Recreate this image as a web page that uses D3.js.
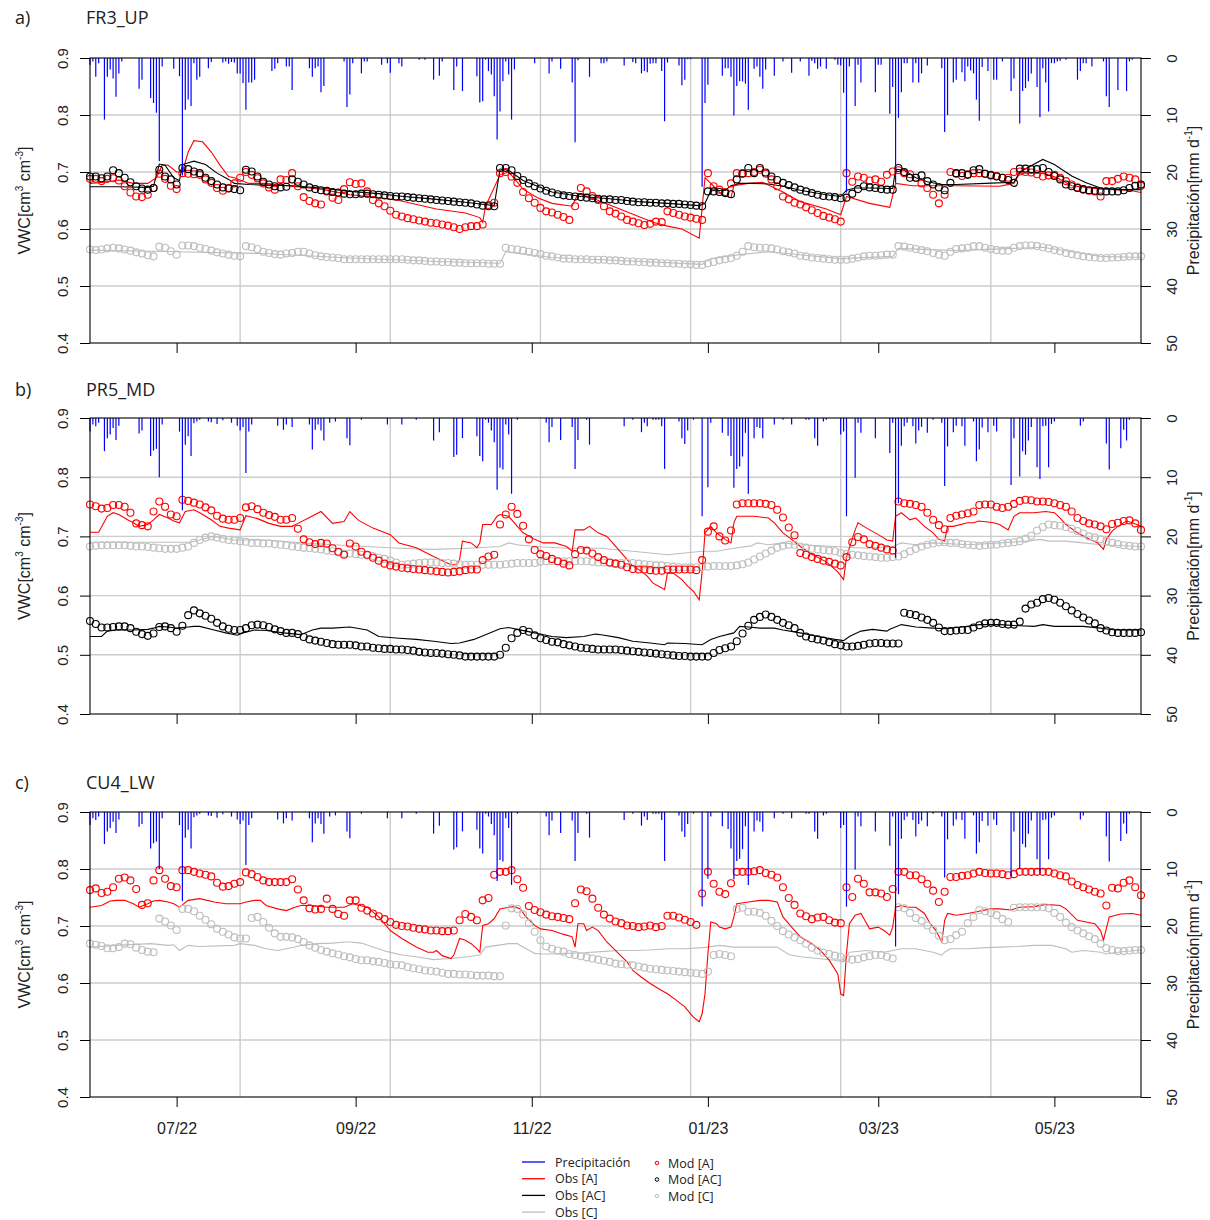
<!DOCTYPE html>
<html>
<head>
<meta charset="utf-8">
<script src="https://cdn.jsdelivr.net/npm/d3@7"></script>
<style>
  body { margin: 0; background: #fff; }
  svg { display: block; }
</style>
</head>
<body>
<svg id="chart" width="1210" height="1220"></svg>
<script>
/* global d3 */
const startDate = new Date(2022, 5, 1)
const endDate = new Date(2023, 4, 31)
const modStep = 2 // modelled series: one value every 2 days from startDate
const vwcTicks = [0.4, 0.5, 0.6, 0.7, 0.8, 0.9]
const precipTicks = [0, 10, 20, 30, 40, 50]
const monthTicks = ['2022-07-01', '2022-09-01', '2022-11-01', '2023-01-01', '2023-03-01', '2023-05-01']
const panelLabels = ['a)', 'b)', 'c)']
const siteNames = ['FR3_UP', 'PR5_MD', 'CU4_LW']
const legendLines = ['Precipitación', 'Obs [A]', 'Obs [AC]', 'Obs [C]']
const legendPoints = ['Mod [A]', 'Mod [AC]', 'Mod [C]']

// precipitation [day, mm]
const precipFR3 = [[0,1.2],[1,0.6],[2,3.3],[3,0.9],[5,10.8],[6,3.3],[7,2],[8,3.6],[9,6.8],[10,2.7],[11,0.6],[17,5.4],[18,3.8],[21,7],[22,7.9],[23,9.6],[24,18.1],[25,1.5],[29,1.9],[31,3.2],[32,20.6],[33,9.1],[34,7.3],[35,8.4],[36,0.9],[37,3.8],[38,3.3],[41,1.8],[42,0.7],[46,0.8],[47,0.6],[48,1],[49,0.7],[50,0.8],[51,2.7],[52,2.7],[53,4.4],[54,9.1],[55,4.3],[56,4.3],[57,3.8],[63,2.3],[64,1.9],[65,0.9],[68,1.5],[69,1.5],[70,5.6],[76,1.8],[77,3.3],[78,1.8],[79,1.5],[80,6],[81,4.9],[88,0.6],[89,8.6],[90,6.4],[91,0.9],[94,2.7],[95,0.6],[96,0.6],[101,1.2],[103,0.9],[104,2.6],[107,0.9],
  [108,1.5],[114,0.3],[116,0.3],[119,3.8],[121,3.1],[122,0.6],[126,5.6],[127,1.5],[129,5.8],[134,3.2],[135,7.8],[136,7.6],[137,0.3],[138,2.3],[139,2.9],[140,6.7],[141,14.3],[142,9.4],[143,4.1],[144,0.6],[145,2.9],[146,10.8],[147,2],[154,0.9],[159,2.7],[160,0.6],[163,1.9],[167,4.3],[168,14.8],[169,0.4],[173,3.3],[177,0.9],[178,0.9],[179,0.6],[185,1.3],[188,0.7],[189,0.9],[191,2.7],[192,2.3],[193,2.5],[194,1],[195,0.9],[196,0.9],[198,2.3],[199,11.1],[200,0.8],[204,1.3],[205,4.8],[206,3.8],[207,0.2],[208,0.2],[212,22.6],[213,7.9],[214,4.7],[219,3.1],[220,1.8],[221,1.8],[222,3.3],[223,10.1],[224,4.9],[225,4.1],[226,4.1],[227,4.5],[228,9.1],[230,1.9],[231,1.5],[232,3.3],[233,5.4],[234,2],[237,3.1],[240,0.6],[243,2.6],[246,0.6],
  [249,3.1],[250,0.5],[251,0.9],[252,1.9],[253,1.5],[255,1.9],[258,0.3],[259,1.2],[260,1.3],[261,6.1],[262,23.6],[263,1.5],[265,8.4],[266,1.2],[267,4.3],[272,6],[273,1.2],[274,1.2],[277,9.8],[278,5.1],[279,21.9],[280,10.5],[281,6],[282,0.9],[283,0.9],[285,4.3],[286,0.9],[287,4.3],[288,2.7],[290,1.3],[295,1.8],[296,13],[297,10],[299,4.3],[300,3.8],[302,2.5],[303,4.1],[304,1.5],[305,2.2],[306,2.7],[307,7.3],[308,11],[309,1.6],[311,2.3],[313,3.8],[314,3.8],[316,0.6],[319,5.8],[320,3.6],[322,11.5],[323,5.8],[324,5.3],[325,4.1],[326,2.7],[328,5.1],[329,10.4],[330,1.8],[331,4.3],[332,9.4],[333,0.9],[334,0.9],[335,0.6],[336,0.5],[338,0.3],[342,3.8],[343,2.3],[344,0.9],[345,0.9],[347,1.5],[351,0.6],[352,6.7],[353,8.6],[356,5.6],[359,5.8],[360,0.6],[361,0.3]]

const precipPR5 = [[0,2.3],[1,1.1],[2,1.4],[3,0.8],[5,5.6],[6,3.4],[7,2.8],[8,1.7],[9,3.7],[10,1.3],[17,2.6],[18,2.1],[21,6.4],[22,5.5],[23,5.2],[24,10],[25,1.1],[31,2.3],[32,15.6],[33,4.5],[34,3.1],[35,6.4],[36,0.9],[37,0.6],[38,0.3],[41,0.6],[42,0.7],[44,1],[46,0.4],[49,0.8],[51,1.3],[52,2.1],[53,1.5],[54,9.3],[55,2.3],[56,1.1],[65,1.3],[67,2],[68,1.1],[70,1.5],[76,1.1],[77,5.3],[78,2],[79,1.1],[80,2.1],[81,3.8],[83,0.8],[85,0.6],[89,3.4],[90,4.6],[94,0.3],[103,1.1],
  [108,1.1],[113,0.3],[119,3.8],[121,2.4],[126,6.6],[127,6.2],[129,3.4],[134,3.1],[135,6.4],[136,7.3],[137,0.3],[138,0.8],[139,2.1],[140,4.1],[141,12.1],[142,8.4],[143,8.7],[144,1.1],[145,2.8],[146,12.8],[148,0.3],[158,0.8],[159,4.1],[160,1.5],[163,3.7],[167,1.5],[168,8.6],[169,3.7],[172,0.3],[173,4.5],[185,1.4],[188,0.3],[191,2.4],[192,0.8],[193,1.4],[195,0.3],[196,0.3],[197,0.3],[198,1.4],[199,8.6],[204,0.6],[205,3.4],[206,4.4],[207,2.1],[209,0.3],[212,16.6],[214,11.7],[215,0.8],[219,2.5],[221,3],[222,6.4],[223,11.8],[224,8.6],[225,8.2],[226,6.5],[227,2.5],[228,12.8],[230,3.4],[231,1.5],[232,1.7],[233,3.4],[237,1.1],[240,0.3],[243,1.1],
  [248,0.3],[249,0.3],[251,3.4],[252,4.7],[254,0.6],[255,0.3],[260,2.8],[261,2.3],[262,16.6],[265,10.1],[266,0.8],[267,2.5],[272,3.4],[277,5.9],[278,0.8],[279,23.6],[280,14.4],[281,4.7],[282,1.4],[283,0.8],[285,1.4],[286,4.3],[287,2.1],[288,1.5],[290,2.5],[292,0.3],[295,0.8],[296,11.5],[297,4.8],[299,2.4],[300,1.3],[302,1.4],[303,4.7],[306,0.6],[307,7.3],[308,5.3],[309,1.6],[311,2.4],[313,1.3],[314,2.3],[319,11.3],[320,3.4],[322,9.9],[323,5.6],[324,6.2],[325,3.8],[326,1.5],[328,8.3],[329,10.3],[330,1.4],[331,1.3],[332,8.3],[333,1],[334,0.6],[343,1.3],[344,0.6],[352,4.3],[353,8.7],[357,5.1],[358,2],[359,3.8],[360,0.3]]
const precipCU4 = precipPR5

// observed VWC [day, value]
const obsA_FR3 = [[0,.680],[5,.682],[10,.686],[15,.680],[20,.680],[23,.690],[25,.712],[27,.712],[30,.700],[32,.700],[34,.735],[36,.755],[39,.753],[42,.735],[45,.712],[48,.692],[50,.690],[55,.680],[60,.680],[70,.675],[80,.670],[90,.660],[100,.655],[107,.650],[120,.635],[130,.628],[135,.620],[136,.612],[137,.640],[142,.695],[145,.700],[150,.670],[155,.655],[160,.645],[167,.640],[169,.662],[175,.652],[185,.632],[195,.612],[200,.605],[205,.600],[211,.584],[213,.690],[216,.675],[219,.660],[222,.655],[223,.676],[228,.680],[233,.682],[240,.665],[246,.648],[255,.635],[260,.625],[262,.657],[270,.645],[277,.638],[279,.680],[285,.676],[300,.676],[315,.675],[320,.680],[322,.698],[330,.698],[335,.690],[340,.676],[350,.670],[360,.668],[364,.664]]
const obsAC_FR3 = [[0,.674],[10,.674],[20,.673],[22,.675],[24,.714],[26,.712],[29,.690],[31,.685],[32,.713],[36,.719],[40,.713],[44,.698],[48,.687],[50,.680],[55,.678],[60,.677],[70,.676],[80,.672],[90,.666],[100,.662],[107,.658],[120,.652],[130,.647],[140,.641],[142,.705],[145,.703],[150,.685],[160,.665],[170,.657],[180,.653],[190,.648],[200,.645],[211,.641],[213,.645],[215,.667],[220,.668],[222,.676],[225,.680],[230,.680],[235,.679],[240,.675],[246,.668],[255,.660],[260,.657],[262,.668],[265,.672],[270,.672],[278,.671],[279,.705],[282,.703],[286,.690],[290,.683],[295,.678],[300,.678],[310,.680],[320,.682],[322,.700],[330,.722],[334,.713],[340,.693],[345,.681],[350,.672],[356,.669],[364,.669]]
const obsC_FR3 = [[0,.563],[30,.560],[60,.557],[90,.549],[120,.543],[142,.540],[144,.560],[160,.550],[200,.541],[212,.538],[215,.548],[225,.555],[235,.560],[260,.548],[278,.552],[280,.566],[300,.562],[320,.566],[330,.568],[350,.552],[364,.550]]

const obsA_PR5 = [[0,.707],[3,.707],[6,.734],[8,.740],[10,.737],[13,.728],[15,.723],[17,.717],[20,.720],[22,.728],[24,.737],[27,.731],[29,.726],[31,.723],[33,.742],[36,.745],[38,.740],[42,.728],[45,.717],[48,.714],[52,.711],[54,.735],[58,.730],[62,.722],[66,.717],[70,.717],[72,.722],[76,.732],[80,.742],[84,.722],[88,.725],[90,.742],[93,.727],[98,.714],[104,.703],[107,.689],[113,.681],[119,.666],[125,.652],[127,.652],[128,.661],[129,.692],[132,.689],[134,.681],[135,.689],[136,.720],[139,.720],[141,.734],[142,.737],[145,.734],[148,.717],[150,.706],[154,.695],[157,.689],[161,.689],[165,.683],[167,.675],[168,.711],[171,.711],[173,.717],[176,.706],[179,.700],[181,.689],[184,.672],[186,.661],[188,.650],[191,.641],[193,.633],[195,.621],[198,.613],[199,.610],[200,.638],[202,.638],[205,.627],[207,.616],[209,.607],[211,.593],[212,.640],[213,.706],[215,.717],[217,.706],[220,.695],[222,.689],[223,.723],[224,.734],[228,.734],[230,.734],[235,.731],[237,.723],[240,.706],[243,.695],[246,.683],[250,.670],[255,.657],[259,.640],[261,.627],[262,.665],[265,.711],[266,.723],[269,.714],[273,.703],[276,.694],[278,.692],[279,.734],[281,.740],[284,.728],[286,.731],[289,.717],[292,.706],[294,.695],[296,.692],[297,.717],[299,.717],[304,.723],[306,.723],[308,.726],[313,.723],[315,.720],[318,.711],[320,.734],[322,.740],[327,.740],[331,.742],[334,.740],[336,.731],[338,.720],[342,.706],[345,.698],[349,.689],[351,.678],[352,.695],[354,.709],[356,.717],[359,.726],[361,.723],[364,.717]]
const obsAC_PR5 = [[0,.531],[4,.531],[6,.540],[9,.542],[15,.542],[20,.543],[22,.545],[24,.548],[27,.547],[30,.545],[34,.547],[36,.548],[38,.548],[43,.542],[47,.537],[51,.533],[53,.537],[57,.542],[61,.541],[67,.537],[73,.534],[77,.542],[80,.545],[84,.545],[90,.547],[96,.542],[100,.531],[107,.528],[113,.526],[119,.523],[125,.519],[128,.520],[133,.526],[137,.534],[142,.544],[145,.546],[148,.543],[154,.537],[160,.531],[165,.529],[171,.531],[175,.535],[177,.534],[183,.529],[188,.523],[194,.520],[199,.517],[200,.520],[206,.519],[212,.517],[215,.526],[218,.531],[223,.537],[225,.548],[228,.547],[232,.545],[237,.545],[240,.542],[246,.537],[252,.531],[258,.526],[261,.524],[263,.531],[267,.540],[271,.543],[276,.540],[277,.543],[281,.551],[286,.547],[292,.545],[296,.544],[302,.547],[308,.551],[315,.551],[322,.549],[327,.548],[330,.551],[334,.548],[338,.548],[344,.548],[350,.545],[355,.542],[364,.542]]
const obsC_PR5 = [[0,.690],[20,.690],[35,.690],[40,.697],[43,.700],[50,.694],[61,.694],[73,.689],[84,.686],[96,.683],[107,.680],[119,.678],[131,.680],[142,.683],[145,.689],[148,.686],[154,.683],[165,.680],[177,.680],[188,.675],[200,.669],[206,.672],[212,.675],[217,.675],[223,.680],[229,.684],[231,.689],[235,.686],[240,.689],[246,.686],[258,.683],[269,.680],[278,.683],[281,.689],[286,.686],[292,.689],[304,.686],[315,.689],[325,.692],[329,.695],[332,.692],[338,.692],[344,.689],[350,.686],[364,.683]]

const obsA_CU4 = [[0,.733],[4,.736],[7,.744],[9,.745],[12,.745],[15,.739],[17,.733],[20,.739],[22,.744],[24,.745],[27,.742],[29,.739],[31,.733],[34,.745],[38,.748],[43,.742],[47,.739],[52,.739],[54,.742],[57,.745],[59,.745],[61,.736],[65,.730],[68,.727],[71,.733],[73,.736],[77,.736],[82,.733],[88,.733],[91,.739],[96,.733],[100,.716],[104,.692],[108,.678],[113,.663],[117,.654],[119,.654],[120,.657],[122,.648],[125,.643],[126,.649],[128,.678],[130,.675],[132,.669],[134,.660],[135,.654],[136,.701],[138,.704],[140,.713],[142,.730],[145,.733],[147,.734],[149,.730],[151,.716],[154,.701],[156,.695],[160,.692],[163,.687],[165,.684],[167,.681],[168,.663],[169,.704],[171,.704],[172,.692],[174,.698],[176,.692],[179,.672],[183,.652],[186,.637],[188,.622],[191,.610],[194,.599],[198,.587],[200,.581],[203,.570],[206,.558],[208,.546],[209,.540],[211,.532],[212,.546],[213,.581],[214,.651],[215,.707],[217,.704],[218,.698],[220,.695],[222,.698],[223,.716],[224,.739],[228,.742],[232,.745],[235,.745],[238,.742],[240,.716],[243,.698],[246,.681],[250,.669],[253,.657],[256,.640],[259,.616],[260,.581],[261,.578],[262,.652],[263,.704],[265,.719],[267,.722],[268,.713],[270,.695],[273,.698],[275,.692],[277,.684],[278,.698],[279,.733],[281,.736],[283,.733],[286,.733],[289,.722],[291,.704],[293,.692],[295,.672],[296,.710],[297,.722],[300,.719],[304,.722],[307,.725],[312,.730],[315,.730],[319,.728],[322,.733],[327,.734],[331,.738],[336,.736],[338,.730],[342,.710],[345,.707],[348,.704],[350,.692],[351,.675],[353,.716],[357,.721],[361,.722],[364,.719]]
const obsC_CU4 = [[0,.663],[9,.666],[21,.669],[27,.666],[29,.667],[31,.657],[34,.666],[38,.664],[50,.666],[52,.669],[57,.666],[61,.660],[65,.657],[68,.660],[71,.663],[73,.666],[79,.669],[84,.670],[88,.672],[90,.672],[94,.670],[98,.663],[103,.655],[108,.649],[113,.646],[119,.641],[125,.643],[131,.646],[135,.649],[137,.663],[141,.666],[145,.669],[148,.669],[150,.663],[154,.652],[156,.651],[160,.651],[165,.652],[171,.653],[177,.655],[183,.657],[188,.657],[194,.658],[200,.660],[206,.660],[212,.662],[214,.663],[218,.666],[223,.663],[231,.663],[238,.663],[242,.650],[246,.646],[252,.643],[258,.640],[261,.637],[263,.654],[269,.657],[275,.654],[278,.657],[281,.660],[286,.660],[292,.654],[295,.649],[296,.654],[298,.660],[304,.660],[310,.662],[315,.663],[321,.664],[327,.666],[333,.666],[338,.660],[340,.654],[344,.657],[350,.654],[352,.651],[356,.654],[362,.657],[364,.658]]

// modelled VWC, every modStep days
const modA_FR3 = [.688,.688,.684,.688,.689,.685,.675,.664,.657,.656,
  .660,.672,.697,.688,.676,.670,.698,.697,.696,.695,
  .687,.681,.672,.667,.672,.680,.690,.700,.695,.689,
  .680,.673,.669,.687,.686,.698,.675,.656,.649,.645,
  .643,.666,.655,.651,.670,.682,.679,.680,.666,.651,
  .645,.640,.632,.625,.622,.619,.617,.615,.613,.611,
  .610,.608,.606,.603,.600,.603,.605,.605,.608,.642,
  .646,.698,.700,.692,.681,.665,.654,.646,.637,.631,
  .629,.625,.621,.616,.640,.672,.666,.658,.651,.640,
  .631,.627,.622,.616,.613,.610,.607,.609,.613,.612,
  .631,.628,.625,.622,.620,.618,.616,.698,.675,.669,
  .665,.680,.698,.698,.698,.700,.704,.697,.687,.675,
  .657,.652,.646,.643,.638,.633,.628,.623,.620,.617,
  .613,.698,.683,.692,.690,.685,.687,.683,.695,.701,
  .703,.698,.696,.690,.680,.672,.660,.645,.660,.700,
  .697,.693,.696,.698,.698,.697,.695,.693,.690,.690,
  .700,.701,.700,.699,.696,.692,.694,.695,.690,.684,
  .678,.673,.669,.667,.666,.657,.684,.684,.688,.692,
  .690,.687,.676]
const modAC_FR3 = [.692,.692,.689,.692,.703,.698,.690,.682,.675,.671,
  .669,.672,.704,.692,.687,.678,.707,.705,.701,.698,
  .690,.684,.678,.673,.671,.670,.668,.704,.701,.692,
  .683,.678,.675,.673,.674,.687,.683,.678,.673,.670,
  .668,.667,.665,.664,.662,.661,.661,.662,.662,.661,
  .660,.659,.658,.657,.657,.656,.655,.654,.653,.652,
  .651,.650,.649,.648,.647,.646,.645,.643,.641,.640,
  .640,.707,.707,.703,.693,.686,.680,.675,.671,.667,
  .664,.661,.659,.658,.657,.656,.655,.654,.653,.652,
  .652,.651,.651,.649,.648,.647,.647,.646,.646,.645,
  .645,.644,.644,.643,.642,.641,.640,.666,.666,.665,
  .663,.661,.687,.697,.707,.698,.707,.699,.692,.686,
  .681,.677,.673,.669,.666,.663,.660,.658,.657,.656,
  .654,.655,.662,.670,.675,.673,.672,.670,.669,.669,
  .707,.700,.690,.690,.694,.684,.678,.673,.668,.681,
  .698,.698,.695,.703,.705,.697,.694,.692,.690,.686,
  .681,.706,.706,.705,.705,.707,.700,.693,.687,.678,
  .675,.672,.670,.668,.667,.666,.666,.666,.666,.668,
  .672,.676,.678]
const modC_FR3 = [.564,.563,.564,.566,.567,.566,.564,.562,.559,.557,
  .554,.552,.569,.567,.561,.555,.571,.571,.570,.567,
  .565,.562,.559,.557,.555,.553,.552,.570,.568,.565,
  .560,.558,.556,.555,.557,.558,.560,.560,.557,.554,
  .552,.551,.550,.549,.547,.547,.547,.547,.547,.547,
  .547,.547,.547,.547,.547,.546,.545,.545,.544,.543,
  .543,.542,.542,.541,.541,.540,.540,.540,.540,.539,
  .539,.539,.567,.565,.564,.562,.560,.558,.556,.553,
  .552,.550,.548,.548,.547,.547,.547,.546,.546,.546,
  .545,.545,.544,.543,.543,.542,.542,.541,.541,.540,
  .540,.539,.539,.538,.538,.537,.537,.540,.542,.545,
  .547,.549,.553,.560,.570,.568,.567,.567,.566,.564,
  .561,.559,.557,.553,.552,.550,.549,.548,.547,.546,
  .546,.546,.548,.550,.552,.553,.553,.554,.555,.555,
  .570,.569,.567,.565,.563,.561,.558,.555,.553,.560,
  .565,.566,.567,.570,.570,.567,.565,.563,.562,.562,
  .567,.570,.571,.571,.570,.568,.566,.563,.561,.558,
  .556,.554,.552,.551,.550,.549,.549,.550,.550,.551,
  .552,.552,.552]

const modA_PR5 = [.754,.751,.747,.748,.753,.753,.750,.740,.722,.719,
  .717,.742,.759,.750,.737,.734,.762,.760,.757,.754,
  .749,.744,.735,.730,.728,.728,.731,.749,.751,.746,
  .740,.736,.733,.728,.728,.731,.713,.695,.690,.687,
  .689,.688,.680,.674,.669,.688,.683,.674,.669,.664,
  .659,.654,.651,.649,.647,.646,.645,.644,.643,.642,
  .641,.640,.639,.640,.641,.643,.644,.644,.660,.666,
  .669,.720,.737,.750,.738,.718,.695,.677,.670,.667,
  .662,.658,.654,.651,.670,.677,.676,.671,.665,.660,
  .656,.654,.652,.648,.645,.644,.644,.643,.642,.642,
  .644,.644,.644,.644,.644,.643,.660,.708,.717,.700,
  .693,.710,.754,.756,.756,.756,.756,.755,.753,.745,
  .732,.715,.702,.672,.669,.665,.662,.659,.657,.654,
  .651,.665,.690,.699,.695,.687,.684,.681,.678,.676,
  .759,.756,.755,.753,.750,.740,.728,.719,.712,.731,
  .735,.737,.739,.742,.753,.754,.754,.750,.748,.750,
  .755,.760,.762,.761,.759,.759,.758,.756,.753,.750,
  .742,.731,.726,.722,.720,.717,.712,.721,.723,.726,
  .727,.722,.711]
const modAC_PR5 = [.557,.552,.546,.546,.547,.548,.548,.545,.539,.535,
  .532,.536,.547,.548,.545,.539,.549,.567,.575,.570,
  .566,.561,.554,.548,.544,.542,.542,.545,.550,.551,
  .550,.547,.543,.540,.537,.537,.535,.530,.526,.524,
  .522,.520,.518,.517,.517,.517,.516,.514,.514,.512,
  .511,.510,.510,.509,.509,.508,.507,.505,.504,.503,
  .503,.502,.501,.500,.499,.497,.497,.497,.497,.497,
  .497,.500,.512,.528,.537,.542,.539,.533,.528,.525,
  .522,.521,.518,.516,.514,.512,.511,.510,.509,.509,
  .509,.509,.508,.507,.506,.505,.504,.503,.502,.501,
  .500,.499,.498,.498,.497,.497,.497,.497,.503,.508,
  .511,.514,.523,.536,.549,.559,.564,.568,.564,.559,
  .554,.550,.545,.537,.531,.528,.526,.524,.521,.518,
  .516,.514,.514,.515,.517,.519,.520,.520,.519,.519,
  .519,.571,.569,.567,.563,.559,.554,.546,.540,.540,
  .541,.542,.542,.546,.550,.553,.554,.554,.552,.551,
  .551,.556,.578,.585,.588,.594,.596,.593,.588,.582,
  .575,.569,.563,.558,.553,.545,.541,.538,.537,.537,
  .537,.537,.538]
const modC_PR5 = [.683,.684,.685,.685,.685,.685,.685,.684,.683,.683,
  .682,.681,.680,.679,.679,.679,.681,.683,.689,.694,
  .698,.700,.698,.696,.694,.693,.692,.691,.689,.689,
  .688,.688,.687,.686,.685,.683,.682,.681,.680,.679,
  .678,.676,.675,.673,.671,.671,.670,.669,.668,.667,
  .664,.662,.659,.656,.652,.653,.654,.655,.656,.656,
  .656,.655,.655,.654,.653,.652,.652,.652,.652,.652,
  .652,.652,.653,.654,.655,.655,.655,.655,.657,.658,
  .658,.658,.658,.658,.658,.658,.658,.657,.656,.656,
  .655,.655,.655,.655,.655,.654,.653,.652,.651,.651,
  .650,.649,.648,.648,.648,.648,.648,.649,.650,.650,
  .650,.650,.651,.653,.656,.661,.666,.671,.676,.681,
  .684,.686,.686,.683,.681,.679,.678,.677,.676,.675,
  .672,.670,.669,.668,.667,.666,.665,.664,.664,.665,
  .666,.670,.675,.679,.683,.686,.688,.690,.690,.689,
  .689,.687,.686,.685,.684,.685,.686,.686,.688,.689,
  .690,.692,.696,.701,.710,.716,.720,.719,.718,.716,
  .713,.709,.705,.700,.698,.695,.692,.689,.687,.685,
  .684,.683,.683]

const modA_CU4 = [.763,.766,.758,.760,.768,.783,.785,.780,.765,.737,
  .740,.780,.798,.783,.770,.768,.798,.798,.795,.792,
  .790,.787,.776,.769,.770,.774,.777,.794,.791,.786,
  .780,.777,.777,.777,.777,.782,.764,.745,.731,.729,
  .730,.748,.730,.721,.718,.745,.745,.732,.727,.722,
  .717,.712,.707,.702,.700,.699,.697,.695,.694,.692,
  .692,.691,.691,.692,.710,.721,.716,.710,.745,.749,
  .790,.795,.795,.798,.782,.767,.735,.728,.724,.720,
  .717,.716,.714,.712,.740,.764,.761,.748,.732,.720,
  .713,.708,.705,.701,.700,.698,.699,.701,.698,.700,
  .718,.718,.715,.711,.707,.702,.757,.795,.774,.760,
  .756,.775,.795,.795,.795,.796,.798,.793,.790,.785,
  .768,.749,.737,.722,.717,.712,.715,.716,.710,.706,
  .705,.768,.751,.783,.774,.759,.759,.757,.751,.765,
  .795,.795,.789,.789,.782,.774,.762,.742,.760,.786,
  .786,.788,.789,.792,.795,.793,.792,.792,.791,.789,
  .791,.795,.795,.795,.795,.795,.795,.792,.789,.787,
  .778,.772,.768,.764,.760,.757,.736,.767,.766,.776,
  .780,.768,.754]
const modC_CU4 = [.669,.667,.665,.661,.661,.663,.669,.668,.662,.658,
  .655,.654,.713,.708,.701,.693,.730,.730,.726,.718,
  .711,.703,.695,.690,.685,.680,.678,.678,.714,.716,
  .707,.697,.687,.681,.681,.680,.677,.672,.666,.662,
  .658,.655,.652,.650,.647,.645,.642,.640,.640,.638,
  .637,.635,.633,.632,.631,.628,.626,.624,.622,.621,
  .620,.618,.616,.616,.615,.615,.614,.613,.613,.613,
  .612,.612,.701,.731,.730,.720,.705,.690,.675,.664,
  .660,.657,.655,.651,.649,.647,.645,.643,.641,.639,
  .637,.634,.633,.632,.631,.629,.627,.625,.624,.623,
  .622,.621,.620,.619,.618,.617,.616,.620,.649,.651,
  .649,.647,.730,.732,.725,.725,.723,.718,.709,.700,
  .691,.685,.680,.675,.669,.662,.657,.653,.651,.648,
  .646,.643,.641,.642,.645,.647,.649,.649,.646,.643,
  .733,.731,.723,.714,.709,.701,.693,.683,.675,.677,
  .684,.690,.705,.716,.728,.726,.723,.719,.712,.707,
  .732,.733,.733,.733,.733,.733,.731,.723,.716,.706,
  .698,.692,.687,.682,.677,.669,.661,.658,.656,.656,
  .657,.658,.658]

const colors = { P: '#0000ff', A: '#ff0000', AC: '#000000', C: '#bebebe' }

const panels = [
  { label: panelLabels[0], site: siteNames[0], top: 58, bottom: 343, titleY: 24, precip: precipFR3,
    obs: [['C', obsC_FR3], ['A', obsA_FR3], ['AC', obsAC_FR3]],
    mod: [['C', modC_FR3], ['A', modA_FR3], ['AC', modAC_FR3]] },
  { label: panelLabels[1], site: siteNames[1], top: 418, bottom: 714, titleY: 396, precip: precipPR5,
    obs: [['C', obsC_PR5], ['A', obsA_PR5], ['AC', obsAC_PR5]],
    mod: [['C', modC_PR5], ['A', modA_PR5], ['AC', modAC_PR5]] },
  { label: panelLabels[2], site: siteNames[2], top: 812, bottom: 1097, titleY: 789, precip: precipCU4,
    obs: [['C', obsC_CU4], ['A', obsA_CU4]],
    mod: [['C', modC_CU4], ['A', modA_CU4]] }
]

const plotLeft = 90
const plotRight = 1141
const tickFont = '"Liberation Sans", Arial, sans-serif'
const textFont = '"Open Sans", "Noto Sans", sans-serif'

const svg = d3.select('#chart')
const x = d3.scaleTime().domain([startDate, endDate]).range([plotLeft, plotRight])
const dayDate = d => d3.timeDay.offset(startDate, d)
const parseDay = d3.timeParse('%Y-%m-%d')
const fmtMonth = d3.timeFormat('%m/%y')
const gridDates = d3.range(1, 7).map(k => new Date(+startDate + k * (endDate - startDate) / 7))

panels.forEach((p, i) => {
  const g = svg.append('g')
  const yV = d3.scaleLinear().domain([0.4, 0.9]).range([p.bottom, p.top])
  const yP = d3.scaleLinear().domain([0, 50]).range([p.top, p.bottom])

  // grid
  g.append('g').selectAll('line').data(vwcTicks.slice(1, -1)).join('line')
    .attr('x1', plotLeft).attr('x2', plotRight)
    .attr('y1', d => yV(d)).attr('y2', d => yV(d))
    .attr('stroke', '#cccccc').attr('stroke-width', 1.4)
  g.append('g').selectAll('line').data(gridDates).join('line')
    .attr('x1', d => x(d)).attr('x2', d => x(d))
    .attr('y1', p.top).attr('y2', p.bottom)
    .attr('stroke', '#cccccc').attr('stroke-width', 1.4)

  // observed lines
  const line = d3.line().x(d => x(dayDate(d[0]))).y(d => yV(d[1]))
  p.obs.forEach(([k, data]) => {
    g.append('path').datum(data)
      .attr('d', line)
      .attr('fill', 'none')
      .attr('stroke', colors[k])
      .attr('stroke-width', 1.1)
  })

  // modelled points
  p.mod.forEach(([k, vals]) => {
    const pts = vals.map((v, j) => [j * modStep, v]).filter(d => d[1] != null)
    g.append('g').selectAll('circle').data(pts).join('circle')
      .attr('cx', d => x(dayDate(d[0])))
      .attr('cy', d => yV(d[1]))
      .attr('r', 3.5)
      .attr('fill', 'none')
      .attr('stroke', colors[k])
      .attr('stroke-width', 1.1)
  })

  // precipitation bars hanging from the top
  g.append('g').selectAll('line').data(p.precip).join('line')
    .attr('x1', d => x(dayDate(d[0]))).attr('x2', d => x(dayDate(d[0])))
    .attr('y1', yP(0)).attr('y2', d => yP(d[1]))
    .attr('stroke', colors.P).attr('stroke-width', 1.2)

  // box
  g.append('rect')
    .attr('x', plotLeft).attr('y', p.top)
    .attr('width', plotRight - plotLeft).attr('height', p.bottom - p.top)
    .attr('fill', 'none').attr('stroke', '#000').attr('stroke-width', 1.1)

  // left axis
  const axL = g.append('g').attr('transform', `translate(${plotLeft},0)`)
    .call(d3.axisLeft(yV).tickValues(vwcTicks).tickSize(10).tickFormat(d3.format('.1f')))
  axL.select('.domain').remove()
  axL.selectAll('.tick line').attr('stroke', '#000')
  axL.selectAll('.tick text')
    .attr('transform', 'rotate(-90)').attr('x', 0).attr('y', -22).attr('dy', 0)
    .attr('text-anchor', 'middle').attr('fill', '#222')
    .style('font-family', tickFont).style('font-size', '15px')

  // right axis
  const axR = g.append('g').attr('transform', `translate(${plotRight},0)`)
    .call(d3.axisRight(yP).tickValues(precipTicks).tickSize(10))
  axR.select('.domain').remove()
  axR.selectAll('.tick line').attr('stroke', '#000')
  axR.selectAll('.tick text')
    .attr('transform', 'rotate(-90)').attr('x', 0).attr('y', 36).attr('dy', 0)
    .attr('text-anchor', 'middle').attr('fill', '#222')
    .style('font-family', tickFont).style('font-size', '15px')

  // bottom axis
  const axB = g.append('g').attr('transform', `translate(0,${p.bottom})`)
    .call(d3.axisBottom(x).tickValues(monthTicks.map(parseDay)).tickSize(10)
      .tickFormat(i === panels.length - 1 ? fmtMonth : ''))
  axB.select('.domain').remove()
  axB.selectAll('.tick line').attr('stroke', '#000')
  axB.selectAll('.tick text').attr('y', 26).attr('fill', '#222')
    .style('font-family', tickFont).style('font-size', '16px')

  // titles
  g.append('text').attr('x', 15).attr('y', p.titleY).text(p.label)
    .style('font-family', textFont).style('font-size', '18px').attr('fill', '#222')
  g.append('text').attr('x', 86).attr('y', p.titleY).text(p.site)
    .style('font-family', textFont).style('font-size', '18px').attr('fill', '#222')

  const mid = (p.top + p.bottom) / 2
  const yl = g.append('text')
    .attr('transform', `translate(30,${mid}) rotate(-90)`)
    .attr('text-anchor', 'middle').attr('fill', '#222')
    .style('font-family', tickFont).style('font-size', '16px')
  yl.append('tspan').text('VWC[cm')
  yl.append('tspan').attr('dy', -7).style('font-size', '10px').text('3')
  yl.append('tspan').attr('dy', 7).text(' cm')
  yl.append('tspan').attr('dy', -7).style('font-size', '10px').text('-3')
  yl.append('tspan').attr('dy', 7).text(']')

  const yr = g.append('text')
    .attr('transform', `translate(1199,${mid}) rotate(-90)`)
    .attr('text-anchor', 'middle').attr('fill', '#222')
    .style('font-family', tickFont).style('font-size', '16px')
  yr.append('tspan').text('Precipitación[mm d')
  yr.append('tspan').attr('dy', -7).style('font-size', '10px').text('-1')
  yr.append('tspan').attr('dy', 7).text(']')
})

// legend
const legend = svg.append('g').style('font-family', textFont).style('font-size', '12.5px')
const lineKeys = ['P', 'A', 'AC', 'C']
legendLines.forEach((t, j) => {
  const yy = 1162 + j * 16.7
  legend.append('line').attr('x1', 522).attr('x2', 545).attr('y1', yy).attr('y2', yy)
    .attr('stroke', colors[lineKeys[j]]).attr('stroke-width', 1.3)
  legend.append('text').attr('x', 555).attr('y', yy + 4.5).attr('fill', '#222').text(t)
})
const pointKeys = ['A', 'AC', 'C']
legendPoints.forEach((t, j) => {
  const yy = 1163 + j * 16.5
  legend.append('circle').attr('cx', 657).attr('cy', yy).attr('r', 1.8)
    .attr('fill', 'none').attr('stroke', colors[pointKeys[j]]).attr('stroke-width', 1)
  legend.append('text').attr('x', 668).attr('y', yy + 4.5).attr('fill', '#222').text(t)
})
</script>
</body>
</html>
